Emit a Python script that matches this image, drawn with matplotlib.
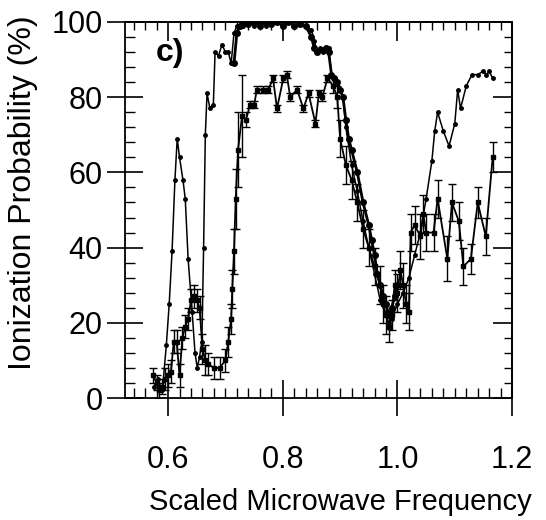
import numpy as np
import matplotlib.pyplot as plt
from matplotlib.ticker import MultipleLocator

plt.rcParams['font.family'] = ['Liberation Sans', 'DejaVu Sans']

# thin trace with small dots (peak at 0.615, dip near 0.98, rise to 1.16)
x1 = [0.575, 0.582, 0.59, 0.597, 0.602, 0.607, 0.612, 0.616, 0.62, 0.626, 0.63, 0.635,
      0.642, 0.647, 0.651, 0.655, 0.659, 0.662, 0.665, 0.668, 0.673, 0.679, 0.682, 0.688,
      0.694, 0.70, 0.705, 0.71, 0.715, 0.72, 0.73, 0.74, 0.75, 0.76, 0.77, 0.78, 0.79,
      0.80, 0.81, 0.82, 0.83, 0.84, 0.85, 0.855, 0.86, 0.865, 0.87, 0.875, 0.88, 0.885,
      0.89, 0.895, 0.90, 0.905, 0.91, 0.92, 0.93, 0.94, 0.95, 0.96, 0.97, 0.98, 0.985,
      0.99, 1.0, 1.01, 1.02, 1.03, 1.04, 1.05, 1.06, 1.065, 1.07, 1.08, 1.09, 1.10,
      1.105, 1.11, 1.12, 1.13, 1.14, 1.15, 1.155, 1.16, 1.166]
y1 = [3, 5, 2, 14, 25, 39, 58, 69, 64, 58, 53, 37,
      23, 12, 8, 11, 15, 40, 70, 81, 77, 78, 92, 91,
      94, 92, 92, 89, 97, 99, 99, 100, 99, 100, 99, 100, 100,
      99, 100, 99, 100, 99, 98, 95, 92, 93, 92, 93, 93, 86,
      85, 84, 82, 80, 72, 62, 55, 47, 40, 33, 26, 22, 20,
      21, 25, 28, 32, 38, 44, 53, 63, 71, 76, 71, 67, 73,
      82, 77, 83, 86, 86, 87, 86, 87, 85]

# trace with error bars
x2 = [0.574, 0.58, 0.585, 0.59, 0.595, 0.60, 0.605, 0.61, 0.615, 0.62, 0.625, 0.63,
      0.635, 0.64, 0.645, 0.65, 0.655, 0.66, 0.665, 0.67, 0.68, 0.69, 0.70, 0.705,
      0.71, 0.712, 0.715, 0.718, 0.722, 0.729, 0.736, 0.743, 0.75, 0.755, 0.766, 0.775,
      0.783, 0.79, 0.801, 0.807, 0.813, 0.825, 0.836, 0.845, 0.857, 0.863, 0.869, 0.878,
      0.888, 0.895, 0.90, 0.91, 0.92, 0.93, 0.94, 0.95, 0.96, 0.97, 0.975, 0.98,
      0.985, 0.99, 0.995, 1.0, 1.005, 1.01, 1.015, 1.02, 1.023, 1.03, 1.04, 1.045,
      1.05, 1.063, 1.07, 1.087, 1.095, 1.107, 1.115, 1.128, 1.14, 1.154, 1.166]
y2 = [6, 4, 2, 3, 5, 6, 7, 15, 15, 6, 16, 19,
      21, 26, 27, 26, 24, 13, 10, 9, 8, 8, 10, 15,
      21, 29, 39, 53, 66, 75, 74, 78, 78, 82, 82, 82,
      85, 77, 85, 86, 80, 82, 77, 81, 73, 81, 80, 85,
      83, 80, 69, 62, 58, 52, 45, 40, 35, 30, 25, 22,
      19, 22, 30, 28, 34, 30, 25, 23, 44, 46, 43, 49,
      44, 44, 53, 37, 52, 47, 35, 37, 52, 43, 64]
e2 = [2, 2, 2, 2, 3, 3, 3, 3, 3, 3, 3, 3,
      3, 3, 3, 3, 3, 4, 4, 3, 3, 3, 3, 4,
      4, 5, 6, 8, 10, 11, 2, 1, 1, 1, 1, 1,
      1, 1, 1, 1, 1, 1, 1, 1, 1, 1, 1, 1,
      2, 3, 5, 5, 5, 5, 5, 5, 5, 5, 5, 5,
      4, 4, 4, 5, 5, 6, 5, 5, 5, 5, 6, 5,
      5, 5, 5, 6, 5, 5, 5, 4, 4, 5, 4]

# heavy trace along the saturated top
x3 = [0.715, 0.72, 0.725, 0.73, 0.74, 0.75, 0.76, 0.77, 0.78, 0.79, 0.80, 0.81,
      0.82, 0.83, 0.84, 0.85, 0.855, 0.86, 0.87, 0.875, 0.88, 0.885, 0.89, 0.895,
      0.90, 0.905, 0.91, 0.915, 0.92, 0.93, 0.94, 0.95, 0.955, 0.96, 0.965, 0.97,
      0.975, 0.98, 0.985, 0.99, 0.995, 1.0]
y3 = [89, 97, 99, 100, 99.5, 100, 99, 100, 99.5, 100, 99, 100,
      99, 99.5, 99, 96, 93, 92, 92.5, 93, 92, 86, 85, 84,
      82, 80, 74, 69, 66, 60, 52, 46, 42, 38, 33, 30,
      27, 25, 22, 24, 27, 30]

fig = plt.figure(figsize=(5.46, 5.2), dpi=100)
ax = fig.add_axes([0.229, 0.2346, 0.709, 0.7231])

ax.plot(x1, y1, color='black', lw=1.1, marker='o', ms=2.5)
ax.errorbar(x2, y2, yerr=e2, color='black', lw=1.3, marker='s', ms=2.8,
            capsize=3, elinewidth=1.0)
ax.plot(x3, y3, color='black', lw=2.0, marker='o', ms=4)

ax.text(0.578, 89.5, 'c)', fontsize=23, fontweight='bold')

ax.set_xlim(0.525, 1.2)
ax.set_ylim(0, 100)
ax.set_xticks([0.6, 0.8, 1.0, 1.2])
ax.set_xticklabels(['0.6', '0.8', '1.0', '1.2'])
ax.xaxis.set_minor_locator(MultipleLocator(0.02))
ax.yaxis.set_major_locator(MultipleLocator(20))
ax.yaxis.set_minor_locator(MultipleLocator(4))

# bottom/left: major ticks cross the axis, minor ticks point in
ax.tick_params(which='major', direction='inout', length=26, width=1.2)
ax.tick_params(axis='x', which='major', labelsize=22, pad=21)
ax.tick_params(axis='y', which='major', labelsize=22, pad=3)
ax.tick_params(which='minor', direction='in', length=7, width=1.0)

# top/right: inward ticks only
top = ax.secondary_xaxis('top')
top.set_xticks([0.6, 0.8, 1.0, 1.2])
top.xaxis.set_minor_locator(MultipleLocator(0.02))
top.tick_params(which='major', direction='in', length=14, width=1.2, labeltop=False)
top.tick_params(which='minor', direction='in', length=6, width=1.0)
right = ax.secondary_yaxis('right')
right.yaxis.set_major_locator(MultipleLocator(20))
right.yaxis.set_minor_locator(MultipleLocator(4))
right.tick_params(which='major', direction='in', length=14, width=1.2, labelright=False)
right.tick_params(which='minor', direction='in', length=6, width=1.0)

for s in ax.spines.values():
    s.set_linewidth(1.3)
top.spines['top'].set_linewidth(1.3)
right.spines['right'].set_linewidth(1.3)

ax.set_xlabel('Scaled Microwave Frequency', fontsize=21)
ax.xaxis.set_label_coords(0.556, -0.24)
ax.set_ylabel('Ionization Probability (%)', fontsize=23)
ax.yaxis.set_label_coords(-0.225, 0.545)

fig.savefig('out.png', dpi=100)
